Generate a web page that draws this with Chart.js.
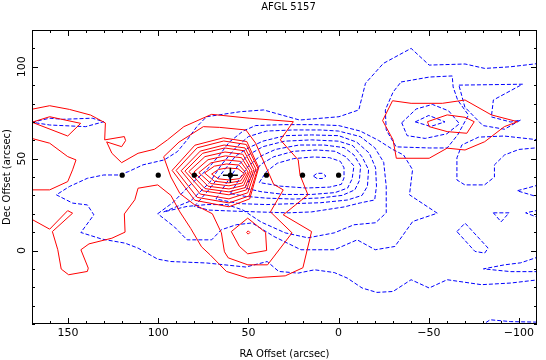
<!DOCTYPE html>
<html>
<head>
<meta charset="utf-8">
<title>AFGL 5157</title>
<script src="https://cdn.jsdelivr.net/npm/chart.js@4.4.1/dist/chart.umd.min.js"></script>
<style>
  body { margin: 0; background: #fff; }
  canvas { display: block; }
</style>
</head>
<body>
<canvas id="map" width="546" height="360"></canvas>
<script>
// axes
const xTicks = [150, 100, 50, 0, -50, -100];
const yTicks = [0, 50, 100];

// observed positions (RA offsets along Dec = 41)
const stripRA = [120, 100, 80, 60, 40, 20, 0];
const stripDec = 41;
const peak = [60, 41];

// red (solid) contours, [RA, Dec]
const redOuter = [[172,18],[160.2,11.6],[150.2,21.7],[147.5,20.3],[158.7,10.3],[155.7,0.4],[153.8,-10.1],[149.7,-13.2],[139.3,-11.4],[138.8,-9.6],[142.9,0.4],[138.4,3.6],[125.7,6.7],[118.4,10],[118.8,19.9],[113,27.6],[111.2,33.9],[100.3,35.7],[93,30],[88,21],[82,12],[76,2],[71.3,-2.3],[62.2,-11.4],[50.4,-15],[29.6,-13.8],[19.8,-9.4],[15,10.3],[30.7,19.4],[17,30.3],[21.4,41.1],[22.4,49.3],[32.3,60.2],[25.1,70.1],[49.6,72],[70.4,74.1],[85.8,67.4],[94.9,60.2],[102.1,55.1],[111.2,52.9],[120.3,47.8],[125.7,52.9],[128.6,59.1],[120.3,56.5],[118.1,59.8],[118.8,62],[129.7,60.2],[129.3,69.4],[137.5,73.7],[149.3,76.8],[160.2,78.8],[172,76.5]];
const redLeft = [[172,61.5],[160.2,58.4],[150.2,51.1],[145.6,49.3],[147.5,43.9],[150.2,37.5],[160.2,33],[172,33]];
const redTri = [[170,69.8],[160.2,72.8],[143,69.2],[150.2,62.3],[170,69.8]];
const red1 = [[70.4,41.6],[66.6,44.1],[61.8,44.9],[55.8,44.5],[52.4,41.9],[54.9,39.1],[60.8,38.4],[66.6,39],[70.4,41.6]];
const red2 = [[74.3,42.2],[68.9,45.9],[62.1,47.1],[55.2,46.5],[51.4,42.3],[54.2,37.9],[60.8,36.8],[68.9,37.7],[74.3,42.2]];
const red3 = [[77.5,42.4],[70.8,47.7],[62.5,49.3],[54.4,48.5],[50.2,42.7],[53.4,36.7],[60.8,35.2],[70.8,36.4],[77.5,42.4]];
const red4 = [[80.2,42.7],[72.4,49.4],[62.7,51.5],[53.8,50.5],[49.2,43.2],[52.7,35.4],[60.8,33.5],[72.4,35],[80.2,42.7]];
const red5 = [[83,43],[74.1,51.1],[63,53.6],[53.2,52.4],[48.1,43.6],[51.9,34.2],[60.8,31.9],[74.1,33.7],[83,43]];
const red6 = [[85.2,43.2],[75.4,52.9],[63.2,55.8],[52.5,54.3],[47,44],[51.1,33],[60.8,30.3],[75.4,32.5],[85.2,43.2]];
const red7 = [[87.3,43.4],[76.7,54.1],[63.5,57.4],[51.9,55.8],[45.9,44.4],[50.4,31.4],[60.8,28.1],[76.7,30.7],[87.3,43.4]];
const red8 = [[90.1,43.6],[78.4,55.9],[63.7,59.6],[51.2,57.7],[44.8,44.8],[49.6,29.7],[60.8,25.9],[78.4,28.9],[90.1,43.6]];
const red9 = [[92.3,43.6],[79.7,57.3],[64,61.3],[50.9,59.3],[44.3,45.1],[49.3,28.1],[60.8,23.8],[79.7,27.3],[92.3,43.6]];
const red10 = [[97,51],[93,40],[88,31],[80,25],[70,20],[65,9.6],[63.3,-0.7],[61.2,-4],[50.3,-7.8],[39.4,-7.8],[25.8,9.6],[37.8,21],[30.7,33],[36,36],[40.5,46],[46,58.4],[51.4,65.6],[66,67],[75,67.4],[88.5,59],[97,51]];
const redSouth = [[59.5,10.3],[50.4,17.6],[40.5,9.8],[39.9,0],[50.4,-1.8],[55,2.2],[59.5,10.3]];
const redSouthCore = [[51,9.8],[50.1,10.7],[49.2,9.8],[50.1,8.9],[51,9.8]];
const redNE1 = [[-29.9,81.5],[-40.2,80.1],[-57.5,80.1],[-70.1,81.9],[-84.7,73.8],[-99.2,70.1],[-91.9,67.4],[-81,59.2],[-70.1,54.7],[-60.2,55.7],[-50.2,50.2],[-32,50.2],[-30.2,60.2],[-24.4,70.7],[-29.9,81.5]];
const redNE2 = [[-49.3,70.1],[-60.2,73.8],[-70.1,72.5],[-75.2,70.1],[-71.1,63.8],[-60.2,64.7],[-50.2,67.4],[-49.3,70.1]];

// blue (dashed) contours, [RA, Dec]
const blueOuter = [[-111,101.8],[-95.5,100],[-81,99.1],[-70.1,101.5],[-50.2,100.9],[-40.2,110],[-24.8,101.8],[-14.9,91],[-11.2,76.5],[-0.2,72.8],[21.6,71],[41.6,76.5],[54.8,75.5],[73.2,72.8],[78.6,67.4],[84,60.2],[89.4,53.8],[96.7,49.3],[108.5,46.6],[116.6,42.9],[122.1,41.1],[130.2,41.1],[139.3,39.3],[149.3,34.8],[156.5,30.3],[147.5,25.8],[139.3,24.8],[135.7,19.4],[142.9,9.8],[131.2,6.2],[118.4,4],[111.2,1.3],[100.3,-4.7],[93.1,-6],[73.1,-6.8],[51.4,-9],[39.6,-6],[33.2,-11.4],[22.4,-12.3],[13.3,-10.5],[2.4,-12],[-4.8,-15],[-13,-20.4],[-21.2,-22.8],[-30.2,-22.3],[-40.2,-15.9],[-50.2,-20.4],[-60.2,-15.9],[-79.2,-18.6],[-95.5,-17.7],[-111,-15.9]];
const blueMid = [[100.3,20],[92,26],[82.3,35.7],[73.1,43.9],[66,52],[60.6,59],[53,65],[46,68],[30,68.5],[13,68.5],[0,68],[-12,65],[-22,60],[-30,55],[-36,52],[-41,44],[-39.3,30.3],[-54.7,20.3],[-41.1,15.8],[-31.2,2.2],[-20.3,0.4],[-10.3,5.8],[2.4,0.4],[20.9,0.4],[35.8,7.6],[48,15],[56.8,14],[65,11.3],[70.4,5.8],[84,5.8],[91.1,12.9],[100.3,20]];
const blue2 = [[97,21],[82,27],[71.5,37],[65,46.6],[57,56],[50,62],[40,65],[25,65.6],[10,65.6],[0,65],[-12,62],[-20,56],[-25,48],[-26.4,35],[-26.4,20.5],[-20.5,15.1],[-8.5,14],[2.4,9.6],[17,6.9],[29.6,9.6],[43,15.5],[53,22],[62,25],[73,25],[84,24],[97,21]];
const blue3 = [[80,24],[72,33],[64,43],[57,51.5],[49.7,56],[42,59.5],[29.6,62.5],[15,62.9],[0,62.5],[-10,59],[-17,53],[-20.5,45],[-21,35],[-20,27.5],[-12,25.9],[-3,23.7],[15,21],[28,20.5],[45,21],[60,21.5],[72,22],[80,24]];
const blue4 = [[68,28],[62,37],[56,46],[50,52],[42,56.5],[30,59.5],[15,60.2],[0,59.5],[-8,57],[-13,51],[-16.6,44],[-16,35],[-13,30],[-5,27.5],[10,26],[25,25.5],[40,25],[55,25.5],[68,28]];
const blue5 = [[60,31],[55,39],[50,46],[44,51],[35,55],[22,57.4],[8,57.4],[-3,56],[-8.5,52],[-12.2,46],[-11.5,38],[-9,33],[-2,30],[10,28.6],[25,28],[40,28.5],[52,29.5],[60,31]];
const blue6 = [[52,34],[48,41],[43,47],[36,51],[25,54],[12,54.7],[2,54],[-4,51],[-8.5,46],[-7.5,39],[-5,34],[2,31.5],[15,30.5],[30,30.5],[43,32],[52,34]];
const blue7 = [[44,37],[40,43],[34,47.5],[25,50],[14,50.9],[5,50.5],[-1,48.5],[-3,45],[-3,39.5],[-1.5,36],[5,34.5],[18,34],[32,35],[44,37]];
const blueCore = [[14,40.5],[12,42],[9,42],[7,40.5],[9,39.2],[12,39.2],[14,40.5]];
const blueWest = [[170,69.8],[160.2,72],[152.9,71.4],[136.6,72],[130.2,70.1],[140.2,67.4],[149.3,67.8],[160.2,68.3],[170,69.8]];
const blueNE1 = [[-34.6,91.7],[-50.4,94.4],[-63,95],[-63.5,89],[-66,81.9],[-72,73.7],[-66,62.9],[-60.2,55.8],[-50.4,55.8],[-31.9,56.4],[-26.4,65.6],[-25.9,76.5],[-30.2,86.2],[-34.6,91.7]];
const blueNE2 = [[-35,69.5],[-43,77],[-52,79.5],[-61,76],[-67,69],[-60,63.5],[-48,61],[-38,62.5],[-35,69.5]];
const blueNE3 = [[-42.5,70],[-50,73.5],[-59,70],[-51,67.5],[-42.5,70]];
const blueNE4 = [[-66.7,90],[-102,90.5],[-85.8,81.9],[-84.7,72.7],[-95.5,69.9],[-100.9,71],[-92,66],[-80,68],[-70,78],[-66.7,90]];
const blueEast = [[-111,60.2],[-91.7,62.3],[-77.6,61.7],[-68.3,57.4],[-65.6,50.4],[-65.6,38.4],[-70,35.7],[-80.9,35.7],[-86.4,40],[-86.4,46.6],[-92,52],[-100,55],[-111,56]];
const blueTongue1 = [[-111,35.7],[-99,32.5],[-111,29]];
const blueDiamond = [[-85.8,20.5],[-94.5,20.5],[-90.1,15.6],[-85.8,20.5]];
const blueTongue2 = [[-111,22],[-103.7,20.5],[-111,17.8]];
const blueEllipse = [[-65.6,10.3],[-70.1,14.9],[-82.9,1.3],[-81,-1.4],[-75.6,-0.5],[-65.6,10.3]];
const blueTongue3 = [[-111,-3.4],[-101,-6.7],[-92,-7.8],[-80.3,-10],[-95.5,-11.5],[-111,-11.5]];
const blueBottom = [[-79,-41],[-84,-37.7],[-95.5,-38.7],[-111,-39]];

const toXY = pts => pts.map(([x, y]) => ({x, y}));

const contour = (pts, color, dash) => ({
    data: toXY(pts),
    showLine: true,
    borderColor: color,
    borderWidth: 1,
    borderDash: dash,
    pointRadius: 0,
    pointHoverRadius: 0,
    tension: 0,
    fill: false
});

const redSets = [redOuter, redLeft, redTri, red1, red2, red3, red4, red5, red6, red7, red8, red9, red10,
    redSouth, redSouthCore, redNE1, redNE2].map(p => contour(p, 'rgb(255,0,0)', []));

const blueSets = [blueOuter, blueMid, blue2, blue3, blue4, blue5, blue6, blue7, blueCore, blueWest,
    blueNE1, blueNE2, blueNE3, blueNE4, blueEast, blueTongue1, blueDiamond, blueTongue2, blueEllipse,
    blueTongue3, blueBottom].map(p => contour(p, 'rgb(0,0,255)', [4, 2]));

const dotSet = {
    data: stripRA.map(ra => ({x: ra, y: stripDec})),
    pointRadius: 2.6,
    backgroundColor: '#000',
    borderWidth: 0,
    showLine: false
};

const peakSet = {
    data: [{x: peak[0], y: peak[1]}],
    pointStyle: 'cross',
    pointRadius: 7.5,
    borderColor: '#000',
    borderWidth: 1.5,
    showLine: false
};

// frame, inward ticks, tick labels and axis titles
const axisBox = {
    id: 'axisBox',
    afterDraw(chart) {
        const {ctx, chartArea: a, scales: {x, y}} = chart;
        ctx.save();
        ctx.strokeStyle = '#000';
        ctx.lineWidth = 1;
        ctx.strokeRect(a.left + 0.5, a.top + 0.5, a.right - a.left - 1, a.bottom - a.top - 1);

        ctx.beginPath();
        for (let v = -100; v <= 170; v += 10) {
            const px = Math.round(x.getPixelForValue(v)) + 0.5;
            const len = v % 50 === 0 ? 6 : 3;
            ctx.moveTo(px, a.bottom); ctx.lineTo(px, a.bottom - len);
            ctx.moveTo(px, a.top); ctx.lineTo(px, a.top + len);
        }
        for (let v = -40; v <= 120; v += 10) {
            const py = Math.round(y.getPixelForValue(v)) + 0.5;
            const len = v % 50 === 0 ? 6 : 3;
            ctx.moveTo(a.left, py); ctx.lineTo(a.left + len, py);
            ctx.moveTo(a.right, py); ctx.lineTo(a.right - len, py);
        }
        ctx.stroke();

        ctx.fillStyle = '#000';
        ctx.font = '11px "DejaVu Sans"';
        ctx.textAlign = 'center';
        ctx.textBaseline = 'middle';
        xTicks.forEach(v => ctx.fillText(String(v).replace('-', '\u2212'), x.getPixelForValue(v), 333));
        yTicks.forEach(v => {
            ctx.save();
            ctx.translate(22, y.getPixelForValue(v));
            ctx.rotate(-Math.PI / 2);
            ctx.fillText(String(v), 0, 0);
            ctx.restore();
        });

        ctx.font = '10px "DejaVu Sans"';
        ctx.fillText('RA Offset (arcsec)', (a.left + a.right) / 2, 354);
        ctx.save();
        ctx.translate(7, (a.top + a.bottom) / 2);
        ctx.rotate(-Math.PI / 2);
        ctx.fillText('Dec Offset (arcsec)', 0, 0);
        ctx.restore();
        ctx.restore();
    }
};

new Chart(document.getElementById('map'), {
    type: 'scatter',
    data: {datasets: [dotSet, peakSet, ...redSets, ...blueSets]},
    options: {
        responsive: false,
        animation: false,
        events: [],
        layout: {padding: {left: 32, right: 1, top: 0, bottom: 36}},
        scales: {
            x: {type: 'linear', min: -110, max: 170, reverse: true, display: false},
            y: {type: 'linear', min: -40, max: 120, display: false}
        },
        plugins: {
            legend: {display: false},
            tooltip: {enabled: false},
            title: {
                display: true,
                text: 'AFGL 5157',
                color: '#000',
                font: {family: 'DejaVu Sans', size: 10, weight: 'normal'},
                padding: {top: 1, bottom: 17}
            }
        }
    },
    plugins: [axisBox]
});
</script>
</body>
</html>
